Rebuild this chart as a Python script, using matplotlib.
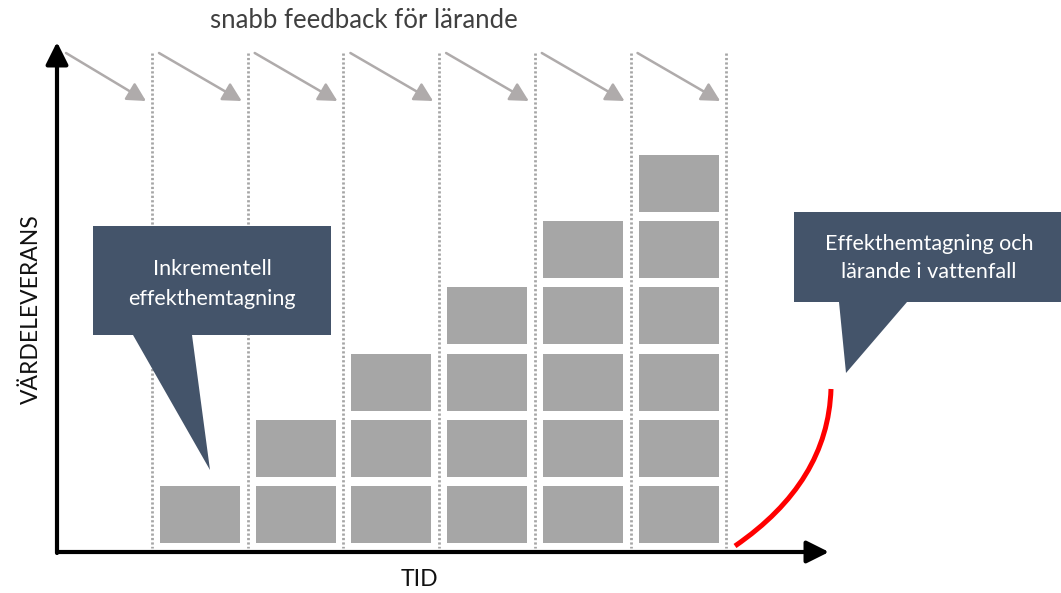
import matplotlib.pyplot as plt
from matplotlib.patches import Rectangle, Polygon, FancyArrowPatch, PathPatch
from matplotlib.path import Path

# blocks delivered per sprint (grows by one each iteration)
blocks = [1, 2, 3, 4, 5, 6]
title = "snabb feedback för lärande"
ylabel = "VÄRDELEVERANS"
xlabel = "TID"
callout_left = "Inkrementell\neffekthemtagning"
callout_right = "Effekthemtagning och\nlärande i vattenfall"

# layout (pixel space)
W, H = 1061, 593
x0, y_base = 57, 552
div0, pitch = 152, 95.7
blk_w, blk_h, row = 80, 57, 66.2
bar_col = "#a6a6a6"
box_col = "#44546a"

fig = plt.figure(figsize=(W / 100, H / 100), dpi=100)
ax = fig.add_axes([0, 0, 1, 1])
ax.set_xlim(0, W)
ax.set_ylim(H, 0)
ax.axis("off")

n = len(blocks)
dividers = [div0 + i * pitch for i in range(n + 1)]

# dotted sprint dividers
for xd in dividers:
    ax.plot([xd, xd], [53, 548], color=bar_col, lw=2, ls=(0, (0.8, 0.8)), zorder=1)

# feedback arrows on top
starts = [x0 + 9] + [xd + 7 for xd in dividers[:-1]]
for i in range(n + 1):
    xe = dividers[i] - 6
    a = FancyArrowPatch((starts[i], 53), (xe, 101), arrowstyle="-|>,head_length=0.75,head_width=0.4",
                        mutation_scale=15, color="#afabab", lw=1.8, shrinkA=0, shrinkB=0, zorder=2)
    ax.add_patch(a)

# stacked value blocks
for i, nb in enumerate(blocks):
    left = dividers[i] + 8
    for k in range(nb):
        top = 543 - blk_h - k * row
        ax.add_patch(Rectangle((left, top), blk_w, blk_h, color=bar_col, lw=0, zorder=3))

# axes arrows
ax.add_patch(FancyArrowPatch((x0, y_base + 1), (x0, 42), arrowstyle="-|>,head_length=0.9,head_width=0.45",
                             mutation_scale=15, color="black", lw=3, shrinkA=0, shrinkB=0, zorder=5))
ax.add_patch(FancyArrowPatch((x0, y_base), (829, y_base), arrowstyle="-|>,head_length=0.9,head_width=0.45",
                             mutation_scale=15, color="black", lw=3, shrinkA=0, shrinkB=0, zorder=5))

# waterfall curve
curve = Path([(735, 546), (828, 482), (831, 389)], [Path.MOVETO, Path.CURVE3, Path.CURVE3])
ax.add_patch(PathPatch(curve, fill=False, edgecolor="#ff0000", lw=3.6, capstyle="butt", zorder=4))

# callouts
ax.add_patch(Polygon([(93, 226), (331, 226), (331, 335), (192, 335), (210, 470), (133, 335), (93, 335)],
                     closed=True, color=box_col, lw=0, zorder=6))
ax.add_patch(Polygon([(794, 212), (1075, 212), (1075, 302), (907, 302), (846, 373), (839, 302), (794, 302)],
                     closed=True, color=box_col, lw=0, zorder=6))

font = "Lato"
ax.text(212, 284, callout_left, color="white", fontsize=15.5, family=font, ha="center", va="center",
        linespacing=1.6, zorder=7)
ax.text(929, 258, callout_right, color="white", fontsize=15.5, family=font, ha="center", va="center",
        linespacing=1.5, zorder=7)

ax.text(364, 20, title, color="#404040", fontsize=18.5, family=font, ha="center", va="center")
ax.text(31, 309, ylabel, color="#111111", fontsize=16.5, family=font, ha="center", va="center", rotation=90)
ax.text(419, 580, xlabel, color="#111111", fontsize=16.5, family=font, ha="center", va="center")

fig.savefig("out.png", dpi=100)
